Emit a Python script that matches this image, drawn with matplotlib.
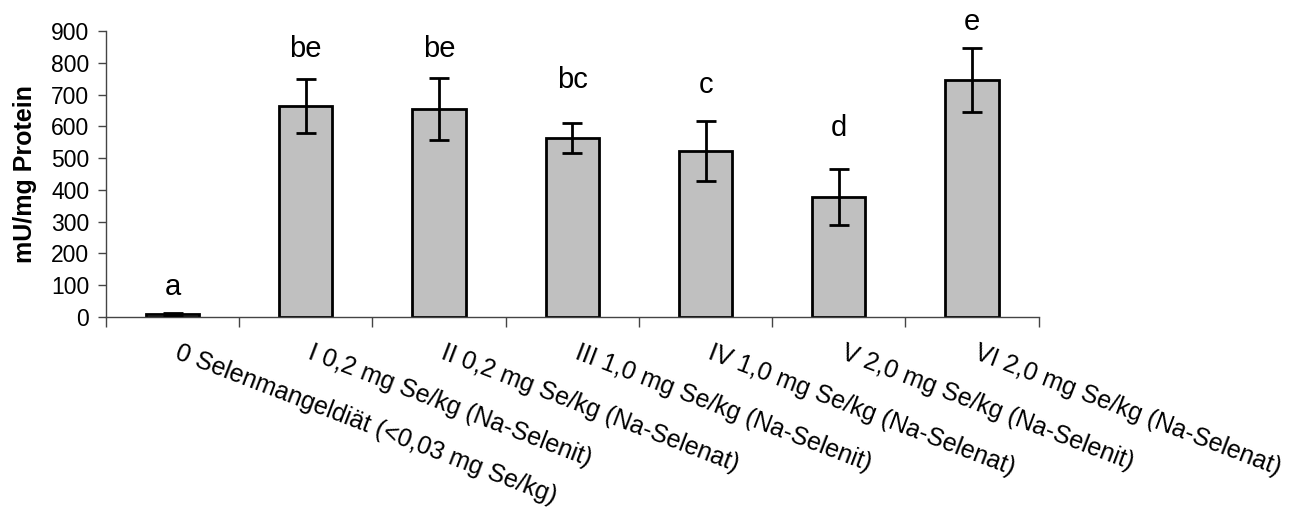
import matplotlib
matplotlib.use('Agg')
from matplotlib import pyplot as plt
import numpy as np

# group labels, means, errors, significance letters
groups = ['0 Selenmangeldiät (<0,03 mg Se/kg)',
          'I 0,2 mg Se/kg (Na-Selenit)',
          'II 0,2 mg Se/kg (Na-Selenat)',
          'III 1,0 mg Se/kg (Na-Selenit)',
          'IV 1,0 mg Se/kg (Na-Selenat)',
          'V 2,0 mg Se/kg (Na-Selenit)',
          'VI 2,0 mg Se/kg (Na-Selenat)']
means = [8, 663, 655, 562, 523, 377, 746]
errors = [3, 85, 97, 47, 95, 89, 100]
letters = ['a', 'be', 'be', 'bc', 'c', 'd', 'e']
letter_y = [95, 843, 843, 746, 730, 595, 928]

plt.rcParams['font.family'] = ['Liberation Sans', 'DejaVu Sans']

fig = plt.figure(figsize=(13, 5.14), dpi=100)
ax = fig.add_axes([0.0815, 0.3833, 0.7175, 0.5564])

x = np.arange(len(groups))
ax.bar(x, means, width=0.4, color='#C0C0C0', edgecolor='black', linewidth=2, zorder=2)
ax.errorbar(x, means, yerr=errors, fmt='none', ecolor='black', elinewidth=2,
            capsize=7, capthick=2, zorder=3)

for xi, lab, ly in zip(x, letters, letter_y):
    ax.text(xi, ly, lab, ha='center', va='center', fontsize=21)

ax.set_xlim(-0.5, len(groups) - 0.5)
ax.set_ylim(0, 900)
ax.set_yticks(range(0, 901, 100))
ax.tick_params(axis='y', labelsize=16.5, length=6, width=1, color='#444444', pad=6)

# ticks between categories, labels at centres
ax.set_xticks(np.arange(-0.5, len(groups), 1.0))
ax.set_xticklabels([])
ax.tick_params(axis='x', length=7, width=1, color='#444444')
for xi, g in zip(x, groups):
    ax.text(xi + 0.06, -75, g, rotation=-21, rotation_mode='anchor',
            ha='left', va='top', fontsize=18)

for s in ['top', 'right']:
    ax.spines[s].set_visible(False)
for s in ['left', 'bottom']:
    ax.spines[s].set_color('#444444')
    ax.spines[s].set_linewidth(1)

ax.set_ylabel('mU/mg Protein', fontsize=18, fontweight='bold', labelpad=10)

fig.savefig('out.png', dpi=100)
